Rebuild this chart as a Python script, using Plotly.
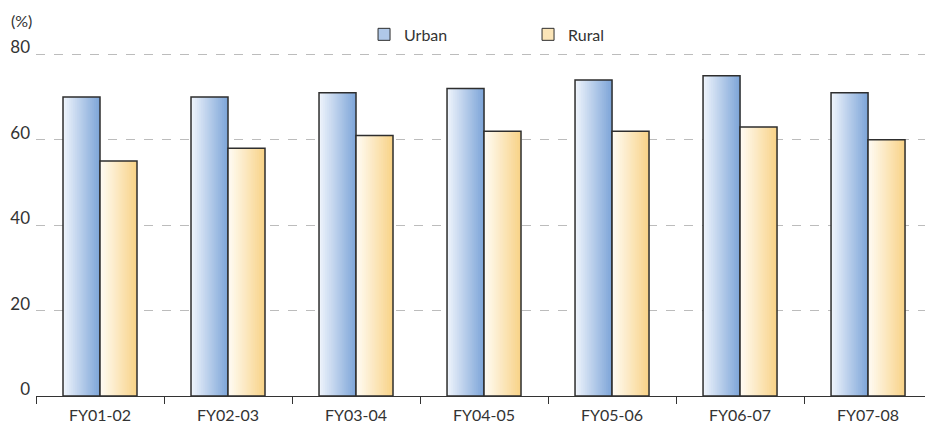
import plotly.graph_objects as go

categories = ["FY01-02", "FY02-03", "FY03-04", "FY04-05", "FY05-06", "FY06-07", "FY07-08"]
urban = [70, 70, 71, 72, 74, 75, 71]
rural = [55, 58, 61, 62, 62, 63, 60]
y_ticks = [0, 20, 40, 60, 80]

BAR_W = 0.289          # bar width in category units
N_SLICES = 18          # vertical bands used to fake a horizontal gradient
FONT = "Lato"


def lerp(c1, c2, t):
    return "rgb({},{},{})".format(*[round(a + (b - a) * t) for a, b in zip(c1, c2)])


series = [
    ("Urban", urban, -BAR_W, (240, 245, 252), (124, 164, 216)),
    ("Rural", rural, 0.0, (255, 252, 245), (248, 210, 134)),
]

fig = go.Figure()
sw = BAR_W / N_SLICES
for name, vals, off, c_left, c_right in series:
    # each band runs to the bar's right edge, so later bands cover earlier ones without seams
    for k in range(N_SLICES):
        fig.add_trace(go.Bar(
            x=categories, y=vals, width=BAR_W - k * sw, offset=off + k * sw,
            marker=dict(color=lerp(c_left, c_right, (k + 0.5) / N_SLICES), line=dict(width=0)),
            showlegend=False, hoverinfo="skip",
        ))
    # outline on top of the bands
    fig.add_trace(go.Bar(
        x=categories, y=vals, width=BAR_W, offset=off,
        marker=dict(color="rgba(0,0,0,0)", line=dict(color="#2e2e2e", width=1.5)),
        showlegend=False, name=name,
    ))
    # legend entry
    fig.add_trace(go.Bar(
        x=[None], y=[None], name=name,
        marker=dict(color=lerp(c_left, c_right, 0.55), line=dict(color="#2e2e2e", width=1)),
        showlegend=True,
    ))

fig.update_layout(
    width=925, height=425,
    margin=dict(l=36, r=0, t=50, b=29),
    plot_bgcolor="white", paper_bgcolor="white",
    barmode="overlay",
    font=dict(family=FONT, size=16, color="#333333"),
    legend=dict(
        orientation="h", x=0.369, xanchor="left", y=1.045, yanchor="middle",
        entrywidth=119, entrywidthmode="pixels",
        font=dict(size=16, color="#333333"), itemwidth=30,
        bgcolor="rgba(0,0,0,0)", traceorder="normal",
    ),
    xaxis=dict(
        type="category", range=[-0.5, 6.445],
        showline=True, linecolor="#333333", linewidth=1,
        ticks="outside", tickson="boundaries", ticklen=7, tickcolor="#333333",
        showgrid=False, automargin=False, ticklabelstandoff=5,
        tickfont=dict(size=16, color="#333333"),
    ),
    yaxis=dict(
        range=[0, 81], tickvals=y_ticks, ticks="",
        showgrid=True, gridcolor="#bcbcbc", griddash="dash", gridwidth=1,
        zeroline=False, showline=False, automargin=False,
        tickfont=dict(size=17, color="#333333"), ticklabelstandoff=5,
        ticklabelshift=-7,
    ),
    annotations=[dict(
        text="(%)", xref="paper", yref="paper", x=-0.03, y=1.0, yshift=30,
        xanchor="left", yanchor="middle", showarrow=False,
        font=dict(size=16, color="#333333"),
    )],
)

fig.write_html("out.html")
